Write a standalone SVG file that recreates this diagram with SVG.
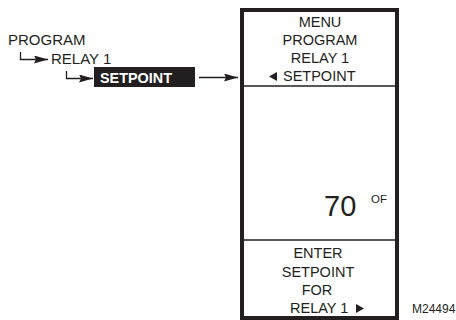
<svg xmlns="http://www.w3.org/2000/svg" width="456" height="320" viewBox="0 0 456 320">
<defs>
<style>
text{font-family:"Liberation Sans",Arial,sans-serif;fill:#231f20}
.t{font-size:14.5px}
.l{font-size:15px}
.c{text-anchor:middle}
.ln{stroke:#231f20;fill:none;stroke-width:1.3}
</style>
<marker id="ah" viewBox="0 0 14 8" refX="14" refY="4" markerWidth="14" markerHeight="8" markerUnits="userSpaceOnUse" orient="auto">
<path d="M0,0 L14,4 L0,8 L2,4 Z" fill="#231f20"/>
</marker>
</defs>
<rect width="456" height="320" fill="#fff"/>
<g id="menu-path">
<text class="l" x="8" y="45">PROGRAM</text>
<text class="l" x="51" y="64">RELAY 1</text>
<rect x="94" y="67" width="101" height="20" fill="#231f20"/>
<text x="100" y="83" style="font-size:14.4px;fill:#fff;font-weight:bold">SETPOINT</text>
</g>
<g id="connectors">
<path class="ln" d="M20.5,52 V59.5 H48" marker-end="url(#ah)"/>
<path class="ln" d="M66.5,71 V78.5 H93" marker-end="url(#ah)"/>
<path class="ln" d="M199,77.5 H238" marker-end="url(#ah)"/>
</g>
<g id="display">
<rect x="242" y="10" width="155" height="308" fill="none" stroke="#231f20" stroke-width="4"/>
<line x1="244" y1="86" x2="395" y2="86" stroke="#231f20" stroke-width="1.5"/>
<line x1="244" y1="240" x2="395" y2="240" stroke="#231f20" stroke-width="1.5"/>
<text class="t c" x="320" y="27">MENU</text>
<text class="t c" x="320" y="45">PROGRAM</text>
<text class="t c" x="320" y="63">RELAY 1</text>
<path d="M277,72 L277,81 L269,76.5 Z" fill="#231f20"/>
<text class="t" x="283" y="81">SETPOINT</text>
<text x="324" y="216" style="font-size:29px">70</text>
<text x="371" y="203" style="font-size:11.5px">OF</text>
<text class="t c" x="318" y="258">ENTER</text>
<text class="t c" x="318" y="277">SETPOINT</text>
<text class="t c" x="317" y="295">FOR</text>
<text class="t" x="290" y="313">RELAY 1</text>
<path d="M356,304 L356,313 L364,308.5 Z" fill="#231f20"/>
</g>
<text x="412" y="313" style="font-size:12px">M24494</text>
</svg>
